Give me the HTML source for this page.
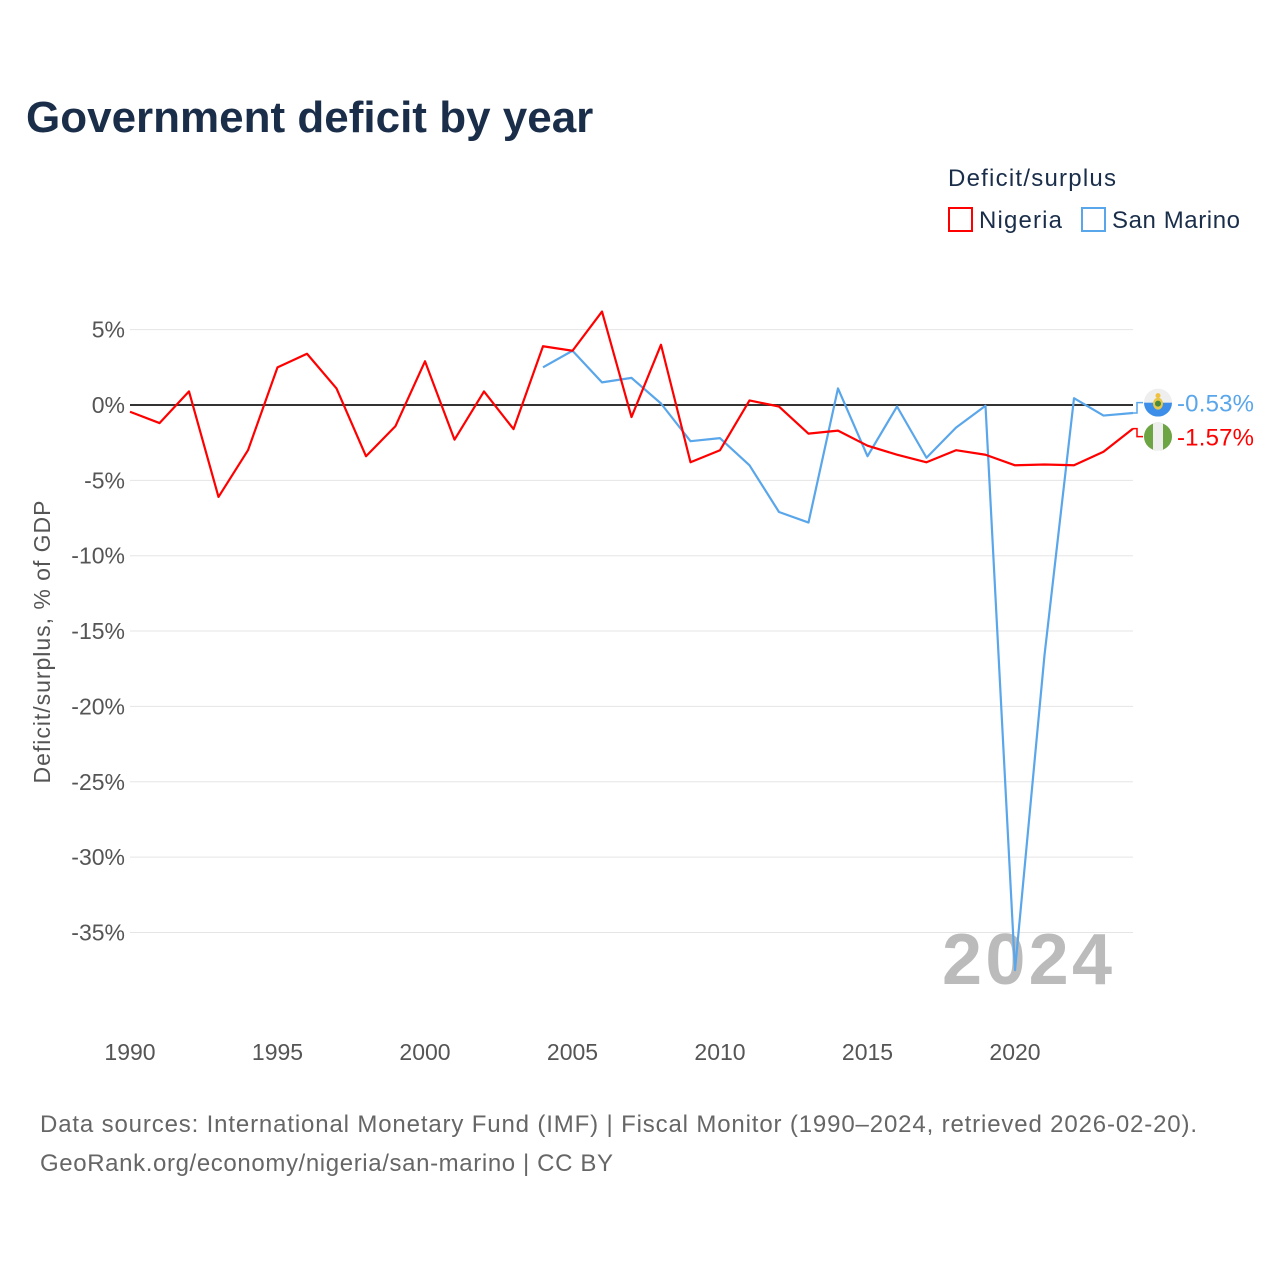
<!DOCTYPE html>
<html><head><meta charset="utf-8"><style>
body{margin:0;background:#fff;font-family:"Liberation Sans",sans-serif}
</style></head><body>
<svg id="c" width="1280" height="1280" xmlns="http://www.w3.org/2000/svg" style="font-family:'Liberation Sans',sans-serif">
<text x="26" y="132" font-size="44" font-weight="bold" fill="#1a2e4a">Government deficit by year</text>
<text x="948" y="186" font-size="24" fill="#1a2e4a" textLength="168">Deficit/surplus</text>
<g><rect x="949" y="208" width="23" height="23" fill="none" stroke="#f00" stroke-width="2"/><text x="979" y="228" font-size="24" fill="#1a2e4a" textLength="83">Nigeria</text></g>
<g><rect x="1082" y="208" width="23" height="23" fill="none" stroke="#5aa6ea" stroke-width="2"/><text x="1112" y="228" font-size="24" fill="#1a2e4a" textLength="128">San Marino</text></g>
<g id="grid"></g><g id="yt"></g><g id="xt"></g>
<text transform="translate(50,642) rotate(-90)" text-anchor="middle" font-size="23" fill="#555" textLength="283">Deficit/surplus, % of GDP</text>
<text x="942" y="984" font-size="72" font-weight="bold" fill="#bbb" textLength="170">2024</text>
<g id="lines"></g>
<text x="40" y="1132" font-size="24" fill="#666" textLength="1157">Data sources: International Monetary Fund (IMF) | Fiscal Monitor (1990–2024, retrieved 2026-02-20).</text>
<text x="40" y="1171" font-size="24" fill="#666" textLength="573">GeoRank.org/economy/nigeria/san-marino | CC BY</text>
</svg>
<script>
const years=[1990,1991,1992,1993,1994,1995,1996,1997,1998,1999,2000,2001,2002,2003,2004,2005,2006,2007,2008,2009,2010,2011,2012,2013,2014,2015,2016,2017,2018,2019,2020,2021,2022,2023,2024];
const nigeria=[-0.45,-1.2,0.9,-6.1,-3.0,2.5,3.4,1.1,-3.4,-1.4,2.9,-2.3,0.9,-1.6,3.9,3.6,6.2,-0.8,4.0,-3.8,-3.0,0.3,-0.1,-1.9,-1.7,-2.7,-3.3,-3.8,-3.0,-3.3,-4.0,-3.95,-4.0,-3.1,-1.57];
const sanMarino=[null,null,null,null,null,null,null,null,null,null,null,null,null,null,2.5,3.6,1.5,1.8,0.1,-2.4,-2.2,-4.0,-7.1,-7.8,1.1,-3.4,-0.1,-3.5,-1.5,-0.05,-37.5,-16.6,0.45,-0.7,-0.53];
const yTicks=[5,0,-5,-10,-15,-20,-25,-30,-35];
const xTicks=[1990,1995,2000,2005,2010,2015,2020];
const NS="http://www.w3.org/2000/svg";
const X=y=>130+(y-1990)*(1133-130)/34;
const Y=v=>405-v*15.07;
function mk(t,a,p){const e=document.createElementNS(NS,t);for(const k in a)e.setAttribute(k,a[k]);document.getElementById(p).appendChild(e);return e;}
yTicks.forEach(v=>{
 const l=mk('line',{x1:130,x2:1133,y1:Y(v),y2:Y(v),stroke:v===0?'#333':'#e5e5e5','stroke-width':v===0?2:1},'grid');
 
 
 const t=mk('text',{x:125,y:Y(v)+8,'text-anchor':'end','font-size':23,fill:'#555'},'yt');
 t.textContent=v+'%';
 
 
});
xTicks.forEach(y=>{
 const t=mk('text',{x:X(y),y:1060,'text-anchor':'middle','font-size':23,fill:'#555'},'xt');
 t.textContent=y;
 
 
});
function line(vals,col,name){
 let d='';vals.forEach((v,i)=>{if(v===null)return;d+=(d?'L':'M')+X(years[i])+','+Y(v);});
 const p=mk('path',{d:d,fill:'none',stroke:col,'stroke-width':2.2,'stroke-linejoin':'round'},'lines');
 
 
}
line(sanMarino,'#5aa6ea','san-marino-line');
line(nigeria,'#f00','nigeria-line');
const lastS=sanMarino[sanMarino.length-1],lastN=nigeria[nigeria.length-1];
const yn=Y(lastN)+8, ys=yn-34;
[[lastS,ys,'#5aa6ea','san-marino'],[lastN,yn,'#f00','nigeria']].forEach(([v,yy,c,n])=>{
 const k=mk('path',{d:`M1133,${Y(v)}H1137V${yy}H1143`,fill:'none',stroke:c,'stroke-width':1.5},'lines');
 
 
 const t=mk('text',{x:1177,y:yy+9,'font-size':24,fill:c,textLength:77},'lines');
 t.textContent=v.toFixed(2)+'%';
 
 
});
const g1=mk('g',{},'lines');


g1.innerHTML=`<clipPath id="c1"><circle cx="1158" cy="${ys}" r="14"/></clipPath><g clip-path="url(#c1)"><rect x="1144" y="${ys-14}" width="28" height="14" fill="#eee"/><rect x="1144" y="${ys}" width="28" height="14" fill="#3d8ee8"/></g><ellipse cx="1158" cy="${ys+1}" rx="5" ry="6" fill="#e8c84a"/><circle cx="1158" cy="${ys+1}" r="3" fill="#4a8a3a"/><circle cx="1158" cy="${ys-7}" r="2.5" fill="#f0c040"/>`;
const g2=mk('g',{},'lines');


g2.innerHTML=`<clipPath id="c2"><circle cx="1158" cy="${yn}" r="14"/></clipPath><g clip-path="url(#c2)"><rect x="1144" y="${yn-14}" width="28" height="28" fill="#6da544"/><rect x="1153" y="${yn-14}" width="10" height="28" fill="#eee"/></g>`;
</script>
</body></html>
